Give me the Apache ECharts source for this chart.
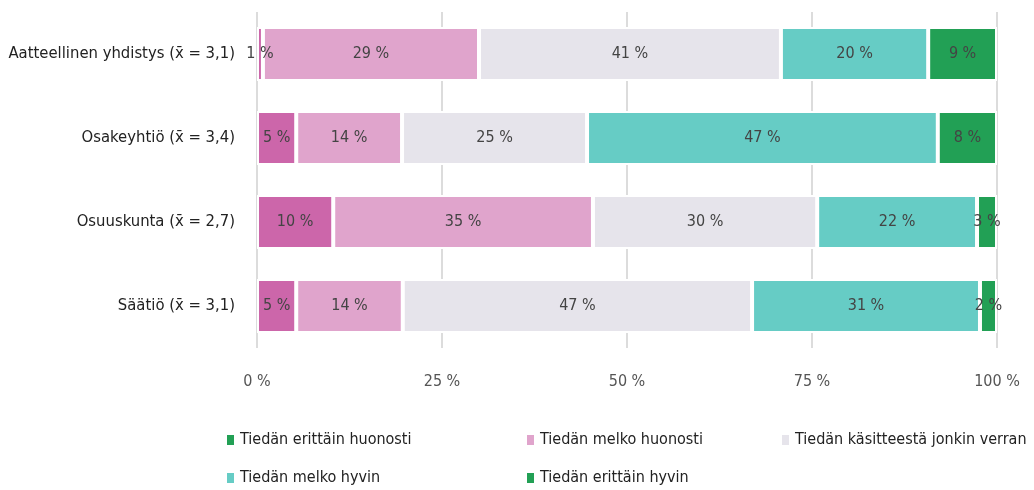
<!DOCTYPE html>
<html><head><meta charset="utf-8">
<script src="https://cdn.jsdelivr.net/npm/echarts@6/dist/echarts.min.js"></script>
<style>html,body{margin:0;padding:0;background:#fff}#c{width:1034px;height:490px}</style>
</head><body><div id="c"></div>
<script>
const categories = ['Aatteellinen yhdistys (x̄ = 3,1)', 'Osakeyhtiö (x̄ = 3,4)', 'Osuuskunta (x̄ = 2,7)', 'Säätiö (x̄ = 3,1)'];
const seriesNames = ['Tiedän erittäin huonosti', 'Tiedän melko huonosti', 'Tiedän käsitteestä jonkin verran', 'Tiedän melko hyvin', 'Tiedän erittäin hyvin'];
const veryPoor = [0.8, 5.3, 10.3, 5.3];
const fairlyPoor = [29.2, 14.3, 35.1, 14.4];
const somewhat = [40.8, 25.0, 30.3, 47.2];
const fairlyWell = [19.9, 47.4, 21.6, 30.8];
const veryWell = [9.3, 8.0, 2.7, 2.3];
const xTicks = [0, 25, 50, 75, 100];

const FONT = "'Liberation Sans Narrow', 'DejaVu Sans Condensed', 'Roboto', sans-serif";
const colors = ['#cc66aa', '#e0a4cc', '#e6e4eb', '#66ccc5', '#22a055'];
const legendMarkerColors = ['#22a055', '#e0a4cc', '#e6e4eb', '#66ccc5', '#22a055'];
const values = [veryPoor, fairlyPoor, somewhat, fairlyWell, veryWell];

const chart = echarts.init(document.getElementById('c'), null, {renderer: 'canvas'});
const legendPos = [[225, 432], [525, 432], [780, 432], [225, 470], [525, 470]];
chart.setOption({
  animation: false,
  textStyle: {fontFamily: FONT},
  grid: {left: 257, right: 37, top: 12, bottom: 142, containLabel: false},
  legend: seriesNames.map((n, i) => ({
    left: legendPos[i][0], top: legendPos[i][1], padding: 0,
    data: [{name: n, itemStyle: {color: legendMarkerColors[i]}}],
    icon: 'rect', itemWidth: 9, itemHeight: 12, itemGap: 6,
    textStyle: {fontFamily: FONT, fontSize: 16, color: '#222'}
  })),
  xAxis: {
    type: 'value', min: 0, max: 100, interval: 25,
    axisLine: {show: false}, axisTick: {show: false},
    splitLine: {show: true, lineStyle: {color: '#dcdcdc', width: 2}},
    axisLabel: {formatter: v => xTicks.includes(v) ? v + ' %' : '', fontFamily: FONT, fontSize: 16, color: '#555', margin: 26}
  },
  yAxis: {
    type: 'category', data: categories, inverse: true,
    axisLine: {show: false}, axisTick: {show: false},
    axisLabel: {fontFamily: FONT, fontSize: 16.5, color: '#222', margin: 22}
  },
  series: seriesNames.map((n, i) => ({
    name: n, type: 'bar', stack: 'total', data: values[i],
    barCategoryGap: '36%',
    itemStyle: {color: colors[i], borderColor: '#fff', borderWidth: 2},
    label: {show: true, position: 'inside', formatter: p => Math.round(p.value) + ' %',
      fontFamily: FONT, fontSize: 16, color: '#444'}
  }))
});
</script></body></html>
